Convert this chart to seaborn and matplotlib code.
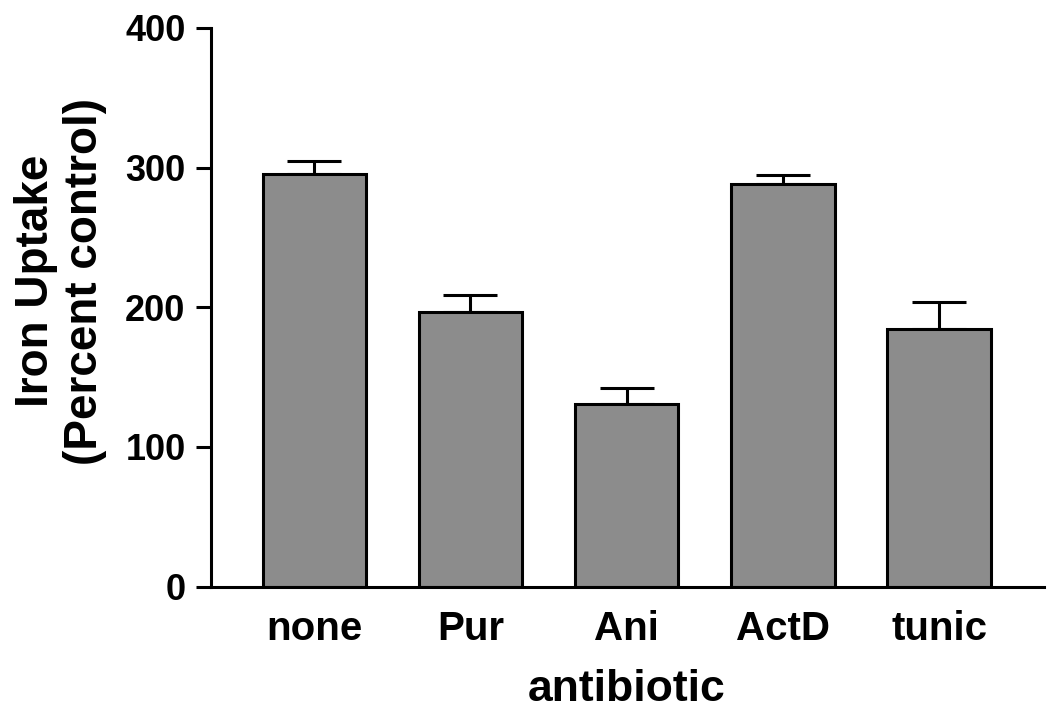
import matplotlib
matplotlib.use("Agg")
import matplotlib.pyplot as plt
import seaborn as sns
import pandas as pd
import numpy as np

categories = ["none", "Pur", "Ani", "ActD", "tunic"]
values = [295.5, 196.5, 130.5, 288.0, 184.5]
errors = [9.0, 12.5, 11.5, 7.0, 19.5]
yticks = [0, 100, 200, 300, 400]

sns.set_theme(style="white")
plt.rcParams['font.family'] = ['Liberation Sans', 'DejaVu Sans']
plt.rcParams['font.weight'] = 'bold'
plt.rcParams['text.color'] = 'black'
plt.rcParams['axes.labelcolor'] = 'black'
plt.rcParams['xtick.color'] = 'black'
plt.rcParams['ytick.color'] = 'black'

df = pd.DataFrame({"antibiotic": categories, "uptake": values})

fig = plt.figure(figsize=(10.5, 7.15), dpi=100)
ax = fig.add_axes([0.2005, 0.1795, 0.7935, 0.7815])

sns.barplot(data=df, x="antibiotic", y="uptake", color="#8c8c8c",
            width=0.662, edgecolor="black", linewidth=2.2, ax=ax,
            errorbar=None, saturation=1)
x = np.arange(len(categories))
ax.errorbar(x, values, yerr=[np.zeros(len(errors)), errors], fmt="none",
            ecolor="black", elinewidth=2.2, capsize=19.5, capthick=2.2, zorder=0.5)

ax.set_xlim(-0.664, 4.67)
ax.set_ylim(0, 400)
ax.set_yticks(yticks)
ax.set_yticklabels([str(t) for t in yticks])
for s in ["top", "right"]:
    ax.spines[s].set_visible(False)
for s in ["left", "bottom"]:
    ax.spines[s].set_linewidth(2.2)
    ax.spines[s].set_color("black")
ax.tick_params(axis="y", which="major", direction="out", length=11, width=2.2,
               color="black", labelsize=26, pad=7, left=True, labelcolor="black")
ax.tick_params(axis="x", length=0, labelsize=29, pad=17, labelcolor="black")
for lab in ax.get_xticklabels() + ax.get_yticklabels():
    lab.set_fontweight("bold")
ax.set_xlabel("antibiotic", fontsize=32, fontweight="bold", labelpad=15, color="black")
ax.set_ylabel("Iron Uptake\n(Percent control)", fontsize=33, fontweight="bold",
              linespacing=1.16, color="black")
ax.yaxis.set_label_coords(-0.124, 0.547)

fig.savefig("out.png", dpi=100)
